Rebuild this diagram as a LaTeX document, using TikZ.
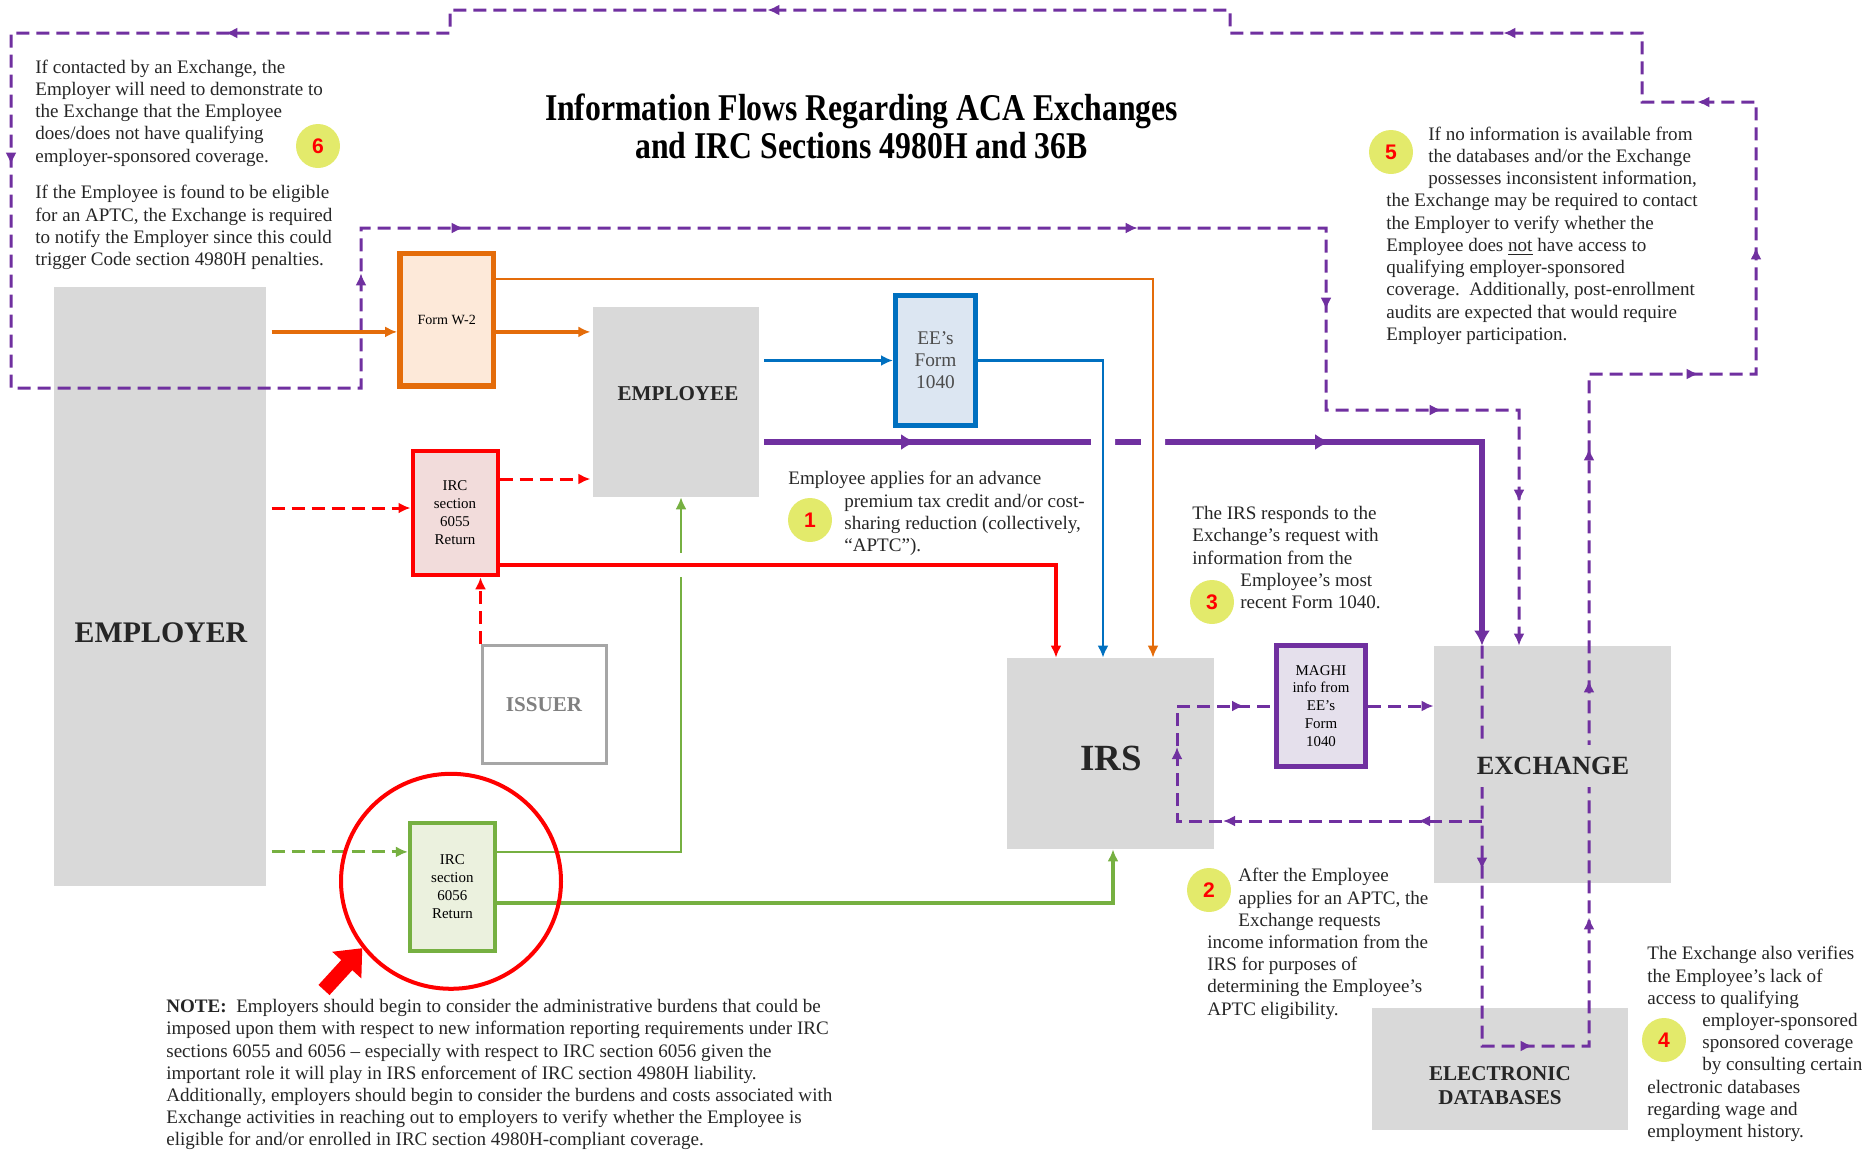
\documentclass[tikz,border=0pt]{standalone}
\usepackage{fontspec}
\setmainfont{Liberation Serif}
\newfontfamily\numfont{Liberation Sans}
\newfontfamily\titlefont{Liberation Serif}[FakeStretch=0.84]
\usetikzlibrary{arrows.meta,decorations.markings,shapes.geometric}

\definecolor{boxgray}{HTML}{D9D9D9}
\definecolor{wtwo}{HTML}{E46C0A}
\definecolor{wtwofill}{HTML}{FDE9D9}
\definecolor{tenforty}{HTML}{0070C0}
\definecolor{tenfortyfill}{HTML}{DCE6F2}
\definecolor{sixtyfive}{HTML}{FF0000}
\definecolor{sixtyfivefill}{HTML}{F2DCDB}
\definecolor{sixtysix}{HTML}{76B041}
\definecolor{sixtysixfill}{HTML}{EBF1DE}
\definecolor{maghi}{HTML}{7030A0}
\definecolor{maghifill}{HTML}{E5E0EC}
\definecolor{issuergray}{HTML}{A6A6A6}
\definecolor{badgefill}{HTML}{E3EA6B}
\definecolor{bodytext}{HTML}{262626}

\begin{document}
\begin{tikzpicture}[
  x=0.2mm, y=-0.2mm,
  >={Latex[length=2.4mm,width=2.2mm]},
  party/.style={fill=boxgray,inner sep=0pt},
  partyname/.style={inner sep=0pt,text=black!85,font=\bfseries\fontsize{#1}{#1}\selectfont},
  form/.style={draw=#1,fill=#1fill,line width=1mm,inner sep=0pt,align=center,
    font=\fontsize{8.5}{10.2}\selectfont},
  flow/.style={draw=#1,line width=0.6mm},
  dashflow/.style={flow=#1,dash pattern=on 2.6mm off 1.4mm},
  flowtip/.style={postaction={decorate,decoration={markings,
    mark=at position #1 with {\arrow{>}}}}},
  callout/.style={anchor=north west,inner sep=0pt,align=left,text=bodytext,
    font=\fontsize{10.85}{12.65}\selectfont},
  badge/.style={circle,fill=badgefill,minimum size=8.8mm,inner sep=0pt,
    text=red,font=\numfont\bfseries\fontsize{12}{12}\selectfont}
]
  \useasboundingbox (0,0) rectangle (1865,1153);

  \node[party,minimum width=42.5mm,minimum height=119.8mm] (employer) at (160,586.5) {};
  \node[party,minimum width=33.1mm,minimum height=38mm] (employee) at (676,402) {};
  \node[party,minimum width=41.4mm,minimum height=38.2mm] (irs) at (1110.5,753.5) {};
  \node[party,minimum width=47.4mm,minimum height=47.4mm] (exchange) at (1552.5,764.5) {};
  \node[party,minimum width=51.1mm,minimum height=24.4mm] (databases) at (1500,1069) {};

  \node[form=wtwo,line width=1.1mm,minimum width=18.7mm,minimum height=26.5mm,
    font=\fontsize{8}{9.6}\selectfont] (w2) at (446.7,319.9) {Form W-2};
  \node[form=tenforty,minimum width=16mm,minimum height=26mm,text=black!70,
    font=\fontsize{11}{12.5}\selectfont] (f1040) at (935.5,360.5) {EE’s\\Form\\1040};
  \node[form=sixtyfive,line width=0.8mm,minimum width=17mm,minimum height=24.9mm]
    (r6055) at (455,513) {IRC\\section\\6055\\Return};
  \node[form=sixtysix,line width=0.8mm,minimum width=17mm,minimum height=25.7mm]
    (g6056) at (452.4,886.9) {IRC\\section\\6056\\Return};
  \node[form=maghi,minimum width=17.9mm,minimum height=24.3mm]
    (maghi) at (1321,706) {MAGHI\\info from\\EE’s\\Form\\1040};
  \node[draw=issuergray,line width=0.6mm,minimum width=24.8mm,minimum height=23.6mm,
    text=black!50,font=\bfseries\fontsize{12}{12}\selectfont] (issuer) at (544,704.5) {ISSUER};

  \coordinate (xin) at ([xshift=-14.1mm]exchange.north);
  \coordinate (xback) at ([xshift=-6.7mm]exchange.north);
  \coordinate (xsplit) at (xin |- 0,821);
  \coordinate (ptrack) at ([yshift=-8mm]employee.east);
  \coordinate (bluedrop) at ([xshift=-1.5mm]irs.north);
  \coordinate (orangedrop) at ([xshift=8.5mm]irs.north);
  \coordinate (reddrop) at ([xshift=-10.9mm]irs.north);
  \coordinate (redtrack) at ([yshift=-10.4mm]r6055.east);
  \coordinate (greenrise) at ([xshift=1mm]employee.south);

  \draw[dashflow=maghi,->,flowtip/.list={44.8mm,90.2mm,127.2mm,174.6mm,221mm,257.8mm,
      294.6mm,335.4mm,388mm,539.8mm,652.8mm,722mm,859.6mm,889.2mm,1024mm,1078mm,
      1121.2mm,1155mm}]
    (xin) -- (1482,1046) -- (1589,1046) -- (1589,374) -- (1756,374) -- (1756,102)
    -- (1642,102) -- (1642,33) -- (1230,33) -- (1230,10) -- (450,10) -- (450,33)
    -- (11,33) -- (11,388) -- (361,388) -- (361,228) -- (1326,228) -- (1326,410)
    -- (1519,410) -- (xback);
  \draw[dashflow=maghi,flowtip/.list={12.8mm,51.8mm,75.8mm,97.4mm}]
    (xsplit) -| (1177,0 |- maghi.west) -- (maghi.west);
  \draw[dashflow=maghi,->] (maghi.east) -- (maghi.east -| exchange.west);

  \draw[flow=maghi,line width=1.1mm,>={Latex[length=3mm,width=3.2mm]},->,
    flowtip/.list={31.4mm,114.2mm},shorten <=1mm] (ptrack) -| (xin);
  \fill[white] (bluedrop |- ptrack) +(-12,-6) rectangle +(12,6)
    (orangedrop |- ptrack) +(-12,-6) rectangle +(12,6);

  \draw[flow=wtwo,line width=0.8mm,->,shorten <=1mm]
    ([yshift=-2.4mm]w2.west -| employer.east) -- ([yshift=-2.4mm]w2.west);
  \draw[flow=wtwo,line width=0.8mm,->,shorten >=0.5mm]
    ([yshift=-2.4mm]w2.east) -- ([yshift=-2.4mm]w2.east -| employee.west);
  \draw[flow=wtwo,line width=0.45mm,->] ([yshift=8.2mm]w2.east) -| (orangedrop);

  \draw[flow=tenforty,line width=0.55mm,->,shorten <=1mm]
    (employee.east |- f1040.west) -- (f1040.west);
  \draw[flow=tenforty,line width=0.55mm,->] (f1040.east) -| (bluedrop);

  \draw[dashflow=sixtysix,->,shorten <=1mm]
    ([yshift=7mm]g6056.west -| employer.east) -- ([yshift=7mm]g6056.west);
  \draw[flow=sixtysix,line width=0.4mm,->] ([yshift=7mm]g6056.east) -| (greenrise);
  \draw[flow=sixtysix,line width=0.7mm,->] ([yshift=-3.2mm]g6056.east) -| ([xshift=0.5mm]irs.south);
  \fill[white] (greenrise |- redtrack) +(-4,-12) rectangle +(4,12);

  \draw[dashflow=sixtyfive,->,shorten <=1mm]
    ([yshift=1mm]r6055.west -| employer.east) -- ([yshift=1mm]r6055.west);
  \draw[dashflow=sixtyfive,->,shorten >=0.5mm]
    ([yshift=6.8mm]r6055.east) -- ([yshift=6.8mm]r6055.east -| employee.west);
  \draw[flow=sixtyfive,line width=0.8mm,->] (redtrack) -| (reddrop);
  \draw[dashflow=sixtyfive,->] (issuer.north west) -- (issuer.north west |- r6055.south);

  \node[partyname=17] at (161,633) {EMPLOYER};
  \node[partyname=12] at (678,394) {EMPLOYEE};
  \node[partyname=21] at (1111,758) {IRS};
  \node[partyname=15,fill=boxgray,inner xsep=1mm,inner ysep=2.4mm] at (1553,766) {EXCHANGE};
  \node[partyname=12,align=center,font=\bfseries\fontsize{12}{13.7}\selectfont]
    at (1500,1086) {ELECTRONIC\\DATABASES};

  \node[anchor=north,align=center,inner sep=0pt,
    font=\titlefont\bfseries\fontsize{21.5}{21.9}\selectfont] (title) at (861.5,93.5)
    {Information Flows Regarding ACA Exchanges\\and IRC Sections 4980H and 36B};

  \node[callout] (note6) at (35,59.5) {If contacted by an Exchange, the\\
    Employer will need to demonstrate to\\
    the Exchange that the Employee\\
    does/does not have qualifying\\
    employer-sponsored coverage.\\[2.9mm]
    If the Employee is found to be eligible\\
    for an APTC, the Exchange is required\\
    to notify the Employer since this could\\
    trigger Code section 4980H penalties.};
  \node[callout] (note5) at (1386,126.5) {\hspace*{8.4mm}If no information is available from\\
    \hspace*{8.4mm}the databases and/or the Exchange\\
    \hspace*{8.4mm}possesses inconsistent information,\\
    the Exchange may be required to contact\\
    the Employer to verify whether the\\
    Employee does \underline{not} have access to\\
    qualifying employer-sponsored\\
    coverage.\ \ Additionally, post-enrollment\\
    audits are expected that would require\\
    Employer participation.};
  \node[callout] (note1) at (788,471) {Employee applies for an advance\\
    \hspace*{11.2mm}premium tax credit and/or cost-\\
    \hspace*{11.2mm}sharing reduction (collectively,\\
    \hspace*{11.2mm}“APTC”).};
  \node[callout] (note3) at (1192,506) {The IRS responds to the\\
    Exchange’s request with\\
    information from the\\
    \hspace*{9.6mm}Employee’s most\\
    \hspace*{9.6mm}recent Form 1040.};
  \node[callout] (note2) at (1207,868) {\hspace*{6.2mm}After the Employee\\
    \hspace*{6.2mm}applies for an APTC, the\\
    \hspace*{6.2mm}Exchange requests\\
    income information from the\\
    IRS for purposes of\\
    determining the Employee’s\\
    APTC eligibility.};
  \node[callout] (note4) at (1647,946) {The Exchange also verifies\\
    the Employee’s lack of\\
    access to qualifying\\
    \hspace*{11mm}employer-sponsored\\
    \hspace*{11mm}sponsored coverage\\
    \hspace*{11mm}by consulting certain\\
    electronic databases\\
    regarding wage and\\
    employment history.};
  \node[callout] (note) at (166,999) {\textbf{NOTE:}\ \ Employers should begin to consider the administrative burdens that could be\\
    imposed upon them with respect to new information reporting requirements under IRC\\
    sections 6055 and 6056 – especially with respect to IRC section 6056 given the\\
    important role it will play in IRS enforcement of IRC section 4980H liability.\\
    Additionally, employers should begin to consider the burdens and costs associated with\\
    Exchange activities in reaching out to employers to verify whether the Employee is\\
    eligible for and/or enrolled in IRC section 4980H-compliant coverage.};

  \node[badge] (b1) at (810,520) {1};
  \node[badge] (b2) at (1209,890) {2};
  \node[badge] (b3) at (1212,602) {3};
  \node[badge] (b4) at (1664,1040) {4};
  \node[badge] (b5) at (1391,152) {5};
  \node[badge] (b6) at (318,146) {6};

  \node[ellipse,draw=sixtyfive,line width=0.8mm,minimum width=44mm,minimum height=43mm,
    inner sep=0pt] (ring) at (451,881.3) {};
  \coordinate (pointer) at (324,990);
  \draw[sixtyfive,line width=3mm,-{Triangle[length=4.6mm,width=7.6mm]}] (pointer) -- (ring.217);
\end{tikzpicture}
\end{document}
